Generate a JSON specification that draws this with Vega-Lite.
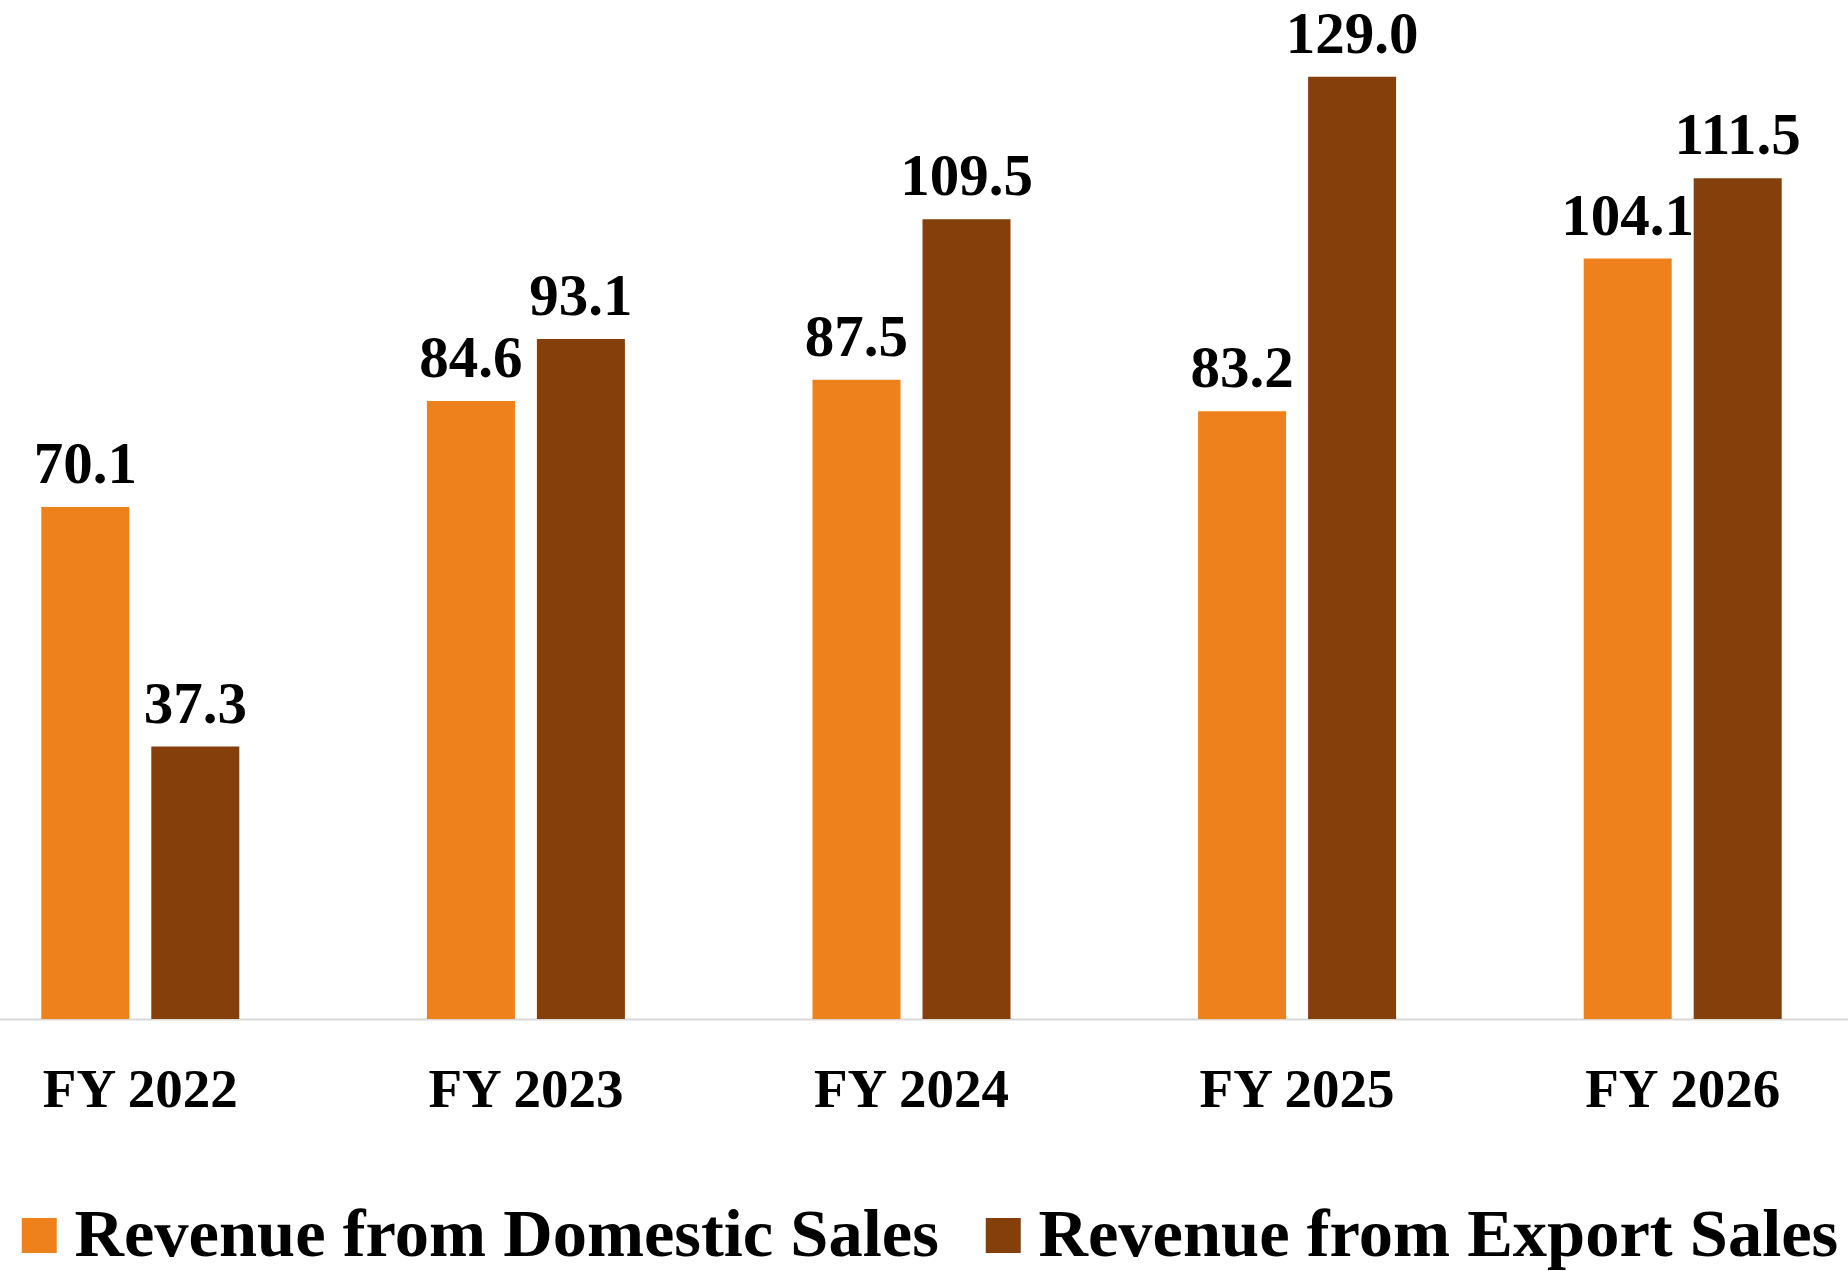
{
  "$schema": "https://vega.github.io/schema/vega-lite/v6.json",
  "autosize": {"type": "none"},
  "padding": {"left": 0, "top": 0, "right": 0, "bottom": 252},
  "width": 1848,
  "height": 1019,
  "background": "white",
  "config": {"view": {"stroke": null}},
  "data": {
    "values": [
      {"year": "FY 2022", "series": "Revenue from Domestic Sales", "value": 70.1, "label": "70.1"},
      {"year": "FY 2022", "series": "Revenue from Export Sales", "value": 37.3, "label": "37.3"},
      {"year": "FY 2023", "series": "Revenue from Domestic Sales", "value": 84.6, "label": "84.6"},
      {"year": "FY 2023", "series": "Revenue from Export Sales", "value": 93.1, "label": "93.1"},
      {"year": "FY 2024", "series": "Revenue from Domestic Sales", "value": 87.5, "label": "87.5"},
      {"year": "FY 2024", "series": "Revenue from Export Sales", "value": 109.5, "label": "109.5"},
      {"year": "FY 2025", "series": "Revenue from Domestic Sales", "value": 83.2, "label": "83.2"},
      {"year": "FY 2025", "series": "Revenue from Export Sales", "value": 129.0, "label": "129.0"},
      {"year": "FY 2026", "series": "Revenue from Domestic Sales", "value": 104.1, "label": "104.1"},
      {"year": "FY 2026", "series": "Revenue from Export Sales", "value": 115.1, "label": "111.5"}
    ]
  },
  "encoding": {
    "x": {
      "field": "year",
      "type": "nominal",
      "sort": null,
      "scale": {"range": [-52.5, 1875.5], "paddingInner": 0, "paddingOuter": 0},
      "axis": {
        "title": null,
        "orient": "bottom",
        "labelAngle": 0,
        "ticks": false,
        "tickSize": 0,
        "labelPadding": 87,
        "labelBaseline": "alphabetic",
        "labelFont": "Liberation Serif",
        "labelFontWeight": "bold",
        "labelFontSize": 55,
        "labelColor": "#000000",
        "labelLimit": 1000,
        "domainColor": "#D9D9D9",
        "domainWidth": 2,
        "grid": false
      }
    },
    "xOffset": {
      "field": "series",
      "type": "nominal",
      "sort": ["Revenue from Domestic Sales", "Revenue from Export Sales"],
      "scale": {"paddingInner": 0.2, "paddingOuter": 0.8527}
    },
    "y": {
      "field": "value",
      "type": "quantitative",
      "scale": {"domain": [0, 139.5], "nice": false, "zero": true},
      "axis": null
    }
  },
  "layer": [
    {
      "mark": {"type": "bar"},
      "encoding": {
        "color": {
          "field": "series",
          "type": "nominal",
          "scale": {
            "domain": ["Revenue from Domestic Sales", "Revenue from Export Sales"],
            "range": ["#EF811D", "#843F0B"]
          },
          "legend": {
            "title": null,
            "orient": "none",
            "direction": "horizontal",
            "legendX": 5,
            "legendY": 1201,
            "padding": 0,
            "symbolType": "square",
            "symbolSize": 1225,
            "symbolStrokeWidth": 0,
            "symbolOpacity": 1,
            "labelFont": "Liberation Serif",
            "labelFontWeight": "bold",
            "labelFontSize": 68.5,
            "labelColor": "#000000",
            "labelLimit": 2000,
            "labelOffset": 1,
            "columnPadding": 30
          }
        }
      }
    },
    {
      "mark": {
        "type": "text",
        "baseline": "alphabetic",
        "align": "center",
        "dy": -24,
        "font": "Liberation Serif",
        "fontWeight": "bold",
        "fontSize": 59,
        "color": "#000000"
      },
      "encoding": {
        "text": {"field": "label", "type": "nominal"}
      }
    }
  ]
}
